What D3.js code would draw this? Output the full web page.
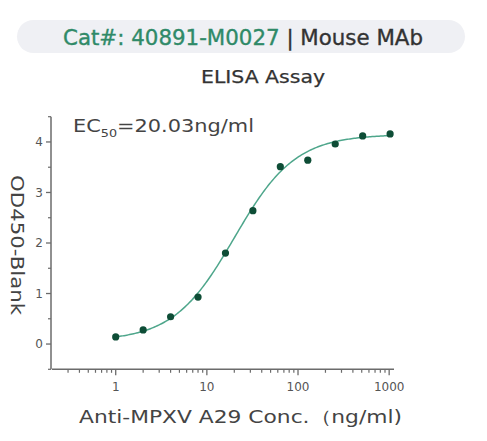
<!DOCTYPE html>
<html><head><meta charset="utf-8">
<script src="https://cdn.jsdelivr.net/npm/d3@7"></script>
<style>body{margin:0;background:#fff}svg{display:block}</style>
</head><body>
<svg id="c" width="487" height="441"></svg>
<script>
// Data
const concentrations = [1, 2, 4, 8, 16, 32, 64, 128, 256, 512, 1024];
const odValues = [0.14, 0.28, 0.54, 0.93, 1.80, 2.64, 3.51, 3.64, 3.96, 4.12, 4.16];
const yTicks = [0, 1, 2, 3, 4];
const xTickLabels = ["1", "10", "100", "1000"];
const xMajor = [1, 10, 100, 1000];
// 4PL fit parameters (bottom, top, EC50, hill)
const fitParams = [0.06, 4.15, 20.03, 1.3];
const curveRange = [1, 1100];

(function () {
const svg = d3.select("#c");
const font = "'DejaVu Sans', sans-serif";
const axisCol = "#6b6b6b";
const txtCol = "#444";

function fit(sel, len) {
  sel.attr("textLength", len).attr("lengthAdjust", "spacingAndGlyphs");
  return sel;
}

// Header pill
svg.append("rect").attr("x", 17).attr("y", 20).attr("width", 448).attr("height", 33)
  .attr("rx", 16.5).attr("fill", "#eff0f4");
const hdr = svg.append("text").attr("x", 63).attr("y", 45)
  .attr("font-family", font).attr("font-size", 20.5).attr("stroke-width", 0.35);
hdr.append("tspan").attr("fill", "#2f8a68").attr("stroke", "#2f8a68").text("Cat#: 40891-M0027");
hdr.append("tspan").attr("fill", "#333").attr("stroke", "#333").text(" | Mouse MAb");
fit(hdr, 360);

fit(svg.append("text").attr("x", 201).attr("y", 83.3)
  .attr("font-family", font).attr("font-size", 18).attr("fill", "#333")
  .attr("stroke", "#333").attr("stroke-width", 0.25).text("ELISA Assay"), 124);

const x = d3.scaleLog().domain([0.2, 1130]).range([52, 394]);
const y = d3.scaleLinear().domain([-0.5, 4.5]).range([369.3, 116.7]);

// Y axis
const gy = svg.append("g").attr("transform", "translate(51,0)");
gy.append("line").attr("x1", 0).attr("x2", 0).attr("y1", y(4.5)).attr("y2", y(-0.5))
  .attr("stroke", axisCol).attr("stroke-width", 1.5);
const yMinor = d3.range(-0.5, 4.51, 0.5).filter(v => !yTicks.includes(v));
yTicks.forEach(v => {
  gy.append("line").attr("x1", -5).attr("x2", 0).attr("y1", y(v)).attr("y2", y(v))
    .attr("stroke", axisCol).attr("stroke-width", 1.3);
  gy.append("text").attr("x", -8).attr("y", y(v)).attr("dy", "0.36em").attr("text-anchor", "end")
    .attr("font-family", font).attr("font-size", 12).attr("fill", "#555").text(v);
});
yMinor.forEach(v => {
  gy.append("line").attr("x1", -3).attr("x2", 0).attr("y1", y(v)).attr("y2", y(v))
    .attr("stroke", axisCol).attr("stroke-width", 1.2);
});

// X axis
const gx = svg.append("g").attr("transform", "translate(0,369.3)");
gx.append("line").attr("x1", x(0.2)).attr("x2", x(1130)).attr("y1", 0).attr("y2", 0)
  .attr("stroke", axisCol).attr("stroke-width", 1.5);
const xMinor = [];
[0.1, 1, 10, 100].forEach(d => { for (let k = 2; k <= 9; k++) { const v = d * k; if (v >= 0.3 && v < 1130) xMinor.push(v); } });
xMinor.forEach(v => {
  gx.append("line").attr("x1", x(v)).attr("x2", x(v)).attr("y1", 0).attr("y2", 3.5)
    .attr("stroke", axisCol).attr("stroke-width", 1.2);
});
xMajor.forEach((v, i) => {
  gx.append("line").attr("x1", x(v)).attr("x2", x(v)).attr("y1", 0).attr("y2", 6)
    .attr("stroke", axisCol).attr("stroke-width", 1.3);
  gx.append("text").attr("x", x(v)).attr("y", 22).attr("text-anchor", "middle")
    .attr("font-family", font).attr("font-size", 12).attr("fill", "#555").text(xTickLabels[i]);
});

// Axis titles
fit(svg.append("text").attr("transform", "translate(10.5,175) rotate(90)")
  .attr("font-family", font).attr("font-size", 18).attr("fill", txtCol)
  .text("OD450-Blank"), 140);
fit(svg.append("text").attr("x", 79).attr("y", 423)
  .attr("font-family", font).attr("font-size", 18).attr("fill", txtCol)
  .text("Anti-MPXV A29 Conc.（ng/ml)"), 323);

// EC50 label
const ec = svg.append("text").attr("x", 73).attr("y", 132).attr("font-family", font)
  .attr("font-size", 18).attr("fill", txtCol);
ec.append("tspan").text("EC");
ec.append("tspan").attr("font-size", 11).attr("dy", 5).text("50");
ec.append("tspan").attr("dy", -5).text("=20.03ng/ml");
fit(ec, 181);

// Fit curve
const [pBot, pTop, pEc50, pHill] = fitParams;
const f = c => pBot + (pTop - pBot) / (1 + Math.pow(pEc50 / c, pHill));
const lx = d3.scaleLog().domain(curveRange).range([0, 1]);
const curvePts = d3.range(0, 201).map(i => lx.invert(i / 200));
svg.append("path").datum(curvePts)
  .attr("d", d3.line().x(c => x(c)).y(c => y(f(c))))
  .attr("fill", "none").attr("stroke", "#4ea68b").attr("stroke-width", 1.5);

// Points
svg.selectAll("circle.pt").data(concentrations).enter().append("circle")
  .attr("cx", d => x(d)).attr("cy", (d, i) => y(odValues[i])).attr("r", 3.6)
  .attr("fill", "#0e4d36");
})();
</script>
</body></html>
